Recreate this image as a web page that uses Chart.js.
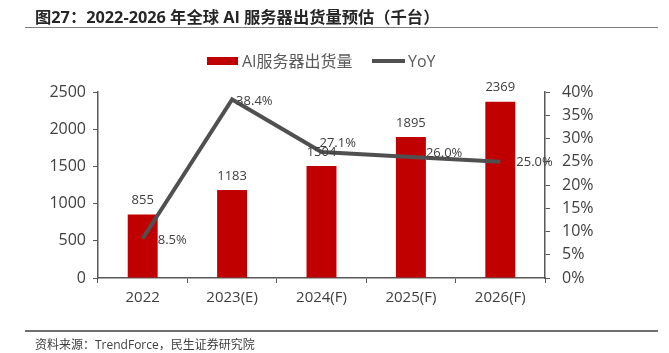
<!DOCTYPE html>
<html>
<head>
<meta charset="utf-8">
<script src="https://cdn.jsdelivr.net/npm/chart.js@4/dist/chart.umd.min.js"></script>
<style>
  body { margin: 0; background: #fff; }
  #wrap { position: relative; width: 669px; height: 353px; font-family: "Open Sans", "Noto Sans CJK SC", sans-serif; }
  #title { position: absolute; left: 35px; top: 4px; font-size: 16.3px; font-weight: bold; color: #262626; white-space: nowrap; }
  #titleLine { position: absolute; left: 25px; top: 27px; width: 633px; height: 1px; background: #7f7f7f; }
  #srcLine { position: absolute; left: 25px; top: 330px; width: 633px; height: 2px; background: #6f6f6f; }
  #src { position: absolute; left: 35px; top: 335px; font-size: 12px; color: #404040; white-space: nowrap; }
  .lg { position: absolute; font-size: 16px; color: #595959; white-space: nowrap; line-height: 20px; }
  .sw { position: absolute; }
  canvas { position: absolute; left: 0; top: 0; }
</style>
</head>
<body>
<div id="wrap">
  <canvas id="chart" width="669" height="353"></canvas>
  <div id="title">图27：2022-2026 年全球 AI 服务器出货量预估（千台）</div>
  <div id="titleLine"></div>
  <div class="sw" style="left:207px;top:57px;width:31px;height:8px;background:#c00000"></div>
  <div class="lg" style="left:242px;top:51px">AI服务器出货量</div>
  <div class="sw" style="left:372px;top:59px;width:33px;height:4px;background:#505050"></div>
  <div class="lg" style="left:408px;top:51px">YoY</div>
  <div id="srcLine"></div>
  <div id="src">资料来源：TrendForce，民生证券研究院</div>
</div>
<script>
// data
const years = ['2022', '2023(E)', '2024(F)', '2025(F)', '2026(F)'];
const shipments = [855, 1183, 1504, 1895, 2369];
const yoy = [8.5, 38.4, 27.1, 26.0, 25.0];

// label offsets for the YoY values (dx, dy from the point)
const yoyDx = [15, 4, -2, 15, 16];
const yoyDy = [2, 2, -9, -4, 1];

const txt = '#404040';
const axisCol = '#595959';
const fam = '"Open Sans", "Noto Sans CJK SC", sans-serif';

const labelPlugin = {
  id: 'labels',
  afterDatasetsDraw(chart) {
    const ctx = chart.ctx;
    ctx.save();
    ctx.font = '13px ' + fam;
    ctx.fillStyle = txt;
    ctx.textBaseline = 'middle';

    const bars = chart.getDatasetMeta(0).data;
    ctx.textAlign = 'center';
    bars.forEach((b, i) => {
      ctx.fillText(String(shipments[i]), b.x, b.y - 14);
    });

    const pts = chart.getDatasetMeta(1).data;
    ctx.textAlign = 'left';
    pts.forEach((p, i) => {
      ctx.fillText(yoy[i].toFixed(1) + '%', p.x + yoyDx[i], p.y + yoyDy[i]);
    });
    ctx.restore();
  }
};

new Chart(document.getElementById('chart'), {
  type: 'bar',
  data: {
    labels: years,
    datasets: [{
      type: 'bar',
      label: 'AI服务器出货量',
      data: shipments,
      backgroundColor: '#c00000',
      categoryPercentage: 1,
      barPercentage: 0.335,
      yAxisID: 'y',
      order: 2
    }, {
      type: 'line',
      label: 'YoY',
      data: yoy,
      borderColor: '#505050',
      borderWidth: 4,
      pointRadius: 0,
      tension: 0,
      yAxisID: 'y1',
      order: 1
    }]
  },
  options: {
    responsive: false,
    animation: false,
    layout: { padding: { top: 92, left: 0, right: 0, bottom: 0 } },
    plugins: { legend: { display: false }, tooltip: { enabled: false } },
    scales: {
      x: {
        grid: { drawOnChartArea: false, drawTicks: true, tickLength: 5, color: axisCol, offset: true },
        border: { color: axisCol, width: 1.5 },
        ticks: { color: txt, font: { size: 15, family: fam }, padding: 6 },
        afterFit(s) { s.height = 75; }
      },
      y: {
        position: 'left',
        min: 0, max: 2500,
        grid: { drawOnChartArea: false, drawTicks: true, tickLength: 5, color: axisCol },
        border: { color: axisCol, width: 1.5 },
        ticks: { stepSize: 500, color: txt, font: { size: 16, family: fam }, padding: 7, callback: v => String(v) },
        afterFit(s) { s.width = 98; }
      },
      y1: {
        position: 'right',
        min: 0, max: 40,
        grid: { drawOnChartArea: false, drawTicks: true, tickLength: 5, color: axisCol },
        border: { color: axisCol, width: 1.5 },
        ticks: { stepSize: 5, color: txt, font: { size: 16, family: fam }, padding: 12, callback: v => v + '%' },
        afterFit(s) { s.width = 124; }
      }
    }
  },
  plugins: [labelPlugin]
});
</script>
</body>
</html>
